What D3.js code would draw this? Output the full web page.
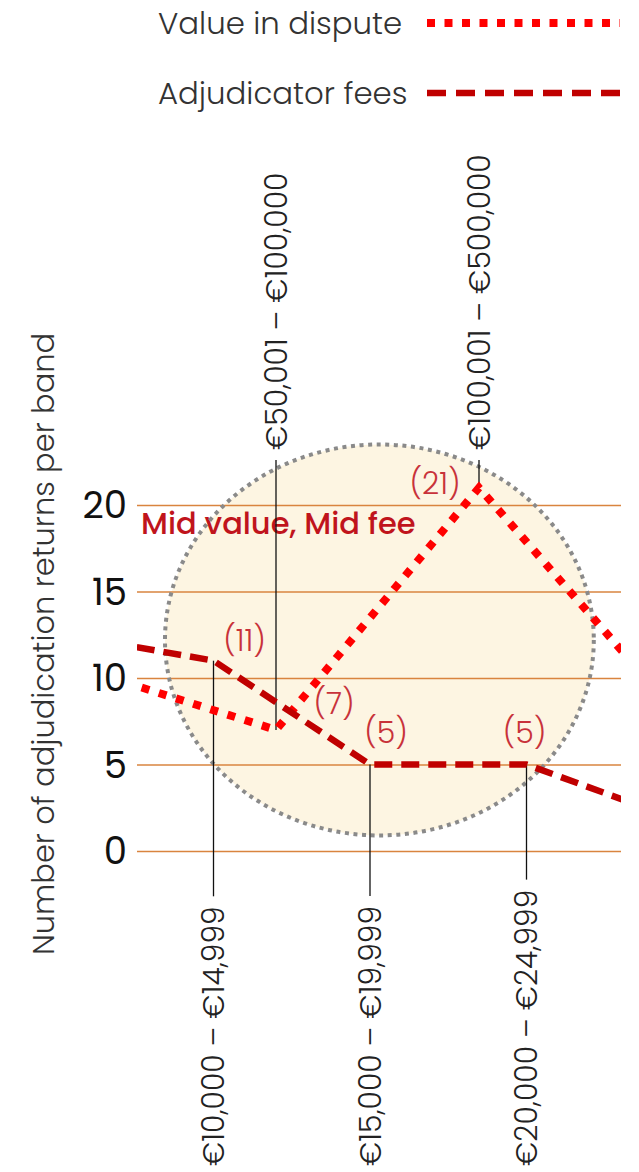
<!DOCTYPE html>
<html>
<head>
<meta charset="utf-8">
<script src="https://cdn.jsdelivr.net/npm/d3@7"></script>
<style>
  html, body { margin: 0; padding: 0; background: #fff; }
  svg { display: block; font-family: Poppins, "Open Sans", sans-serif; }
</style>
</head>
<body>
<svg id="chart" width="639" height="1172"></svg>
<script>
// Adjudication returns per band, by fee band and by value-in-dispute band.
// The outer bands of each series sit just beyond the plotted window.
const feeBands = ["€5,000 – €9,999", "€10,000 – €14,999", "€15,000 – €19,999", "€20,000 – €24,999", "€25,000 – €29,999"];
const feeCounts = [12.6, 11, 5, 5, 1.7];

const valueBands = ["€25,001 – €50,000", "€50,001 – €100,000", "€100,001 – €500,000", "€500,001 – €1,000,000"];
const valueCounts = [10.7, 7, 21, 7.6];

const countTicks = [0, 5, 10, 15, 20];

const legendItems = ["Value in dispute", "Adjudicator fees"];
const axisTitle = "Number of adjudication returns per band";
const calloutText = "Mid value, Mid fee";

// Bands that carry a count callout
const feeCallouts = ["€10,000 – €14,999", "€15,000 – €19,999", "€20,000 – €24,999"];
const valueCallouts = ["€50,001 – €100,000", "€100,001 – €500,000"];

// ---- layout ----
const W = 639, H = 1172;
const plot = { left: 137, right: 621 };
const FONT = 'Poppins, "Open Sans", sans-serif';

const svg = d3.select("#chart");
svg.append("rect").attr("width", W).attr("height", H).attr("fill", "#fff");

const y = d3.scaleLinear().domain([0, 20]).range([851, 505]);
const xFee = d3.scalePoint().domain(feeBands).range([57, 683]);
const xValue = d3.scalePoint().domain(valueBands).range([73, 682]);

const RED = "#ff0000", DARK = "#c00000", CALL = "#c8323a", GRID = "#d9843f";

svg.append("defs").append("clipPath").attr("id", "plotClip")
  .append("rect").attr("x", plot.left).attr("y", 0)
  .attr("width", plot.right - plot.left).attr("height", H);

// ---- highlight zone around the mid bands ----
const zone = { band: 1.06, count: 12.2, bandRadius: 1.37, countRadius: 11.3 };
const step = xFee.step();
const zoneCx = xFee(feeBands[0]) + zone.band * step + step;
const zoneCy = y(zone.count);
const zoneRx = zone.bandRadius * step;
const zoneRy = y(0) - y(zone.countRadius);

svg.append("ellipse")
  .attr("cx", zoneCx).attr("cy", zoneCy).attr("rx", zoneRx).attr("ry", zoneRy)
  .attr("fill", "#fdf5e2");

// ---- gridlines and count axis ----
const yAxis = d3.axisLeft(y).tickValues(countTicks)
  .tickSize(-(plot.right - plot.left)).tickPadding(10);
const gy = svg.append("g").attr("transform", `translate(${plot.left},0)`).call(yAxis)
  .attr("font-family", FONT);
gy.select(".domain").remove();
gy.selectAll(".tick line").attr("stroke", GRID).attr("stroke-width", 1.6);
gy.selectAll(".tick text")
  .attr("font-size", 37).attr("fill", "#111")
  .attr("dy", "0.35em");

svg.append("text")
  .attr("transform", `translate(43,${(y(0) + y(20)) / 2 - 34}) rotate(-90)`)
  .attr("text-anchor", "middle").attr("dominant-baseline", "central")
  .attr("font-size", 30.5).attr("font-weight", 300).attr("fill", "#333")
  .text(axisTitle);

// ---- callout heading ----
svg.append("text")
  .attr("x", plot.left + 4).attr("y", y(18.3))
  .attr("font-size", 30.5).attr("font-weight", 500).attr("fill", "#c0141c")
  .text(calloutText);

// ---- zone outline ----
svg.append("ellipse")
  .attr("cx", zoneCx).attr("cy", zoneCy).attr("rx", zoneRx).attr("ry", zoneRy)
  .attr("fill", "none").attr("stroke", "#8a8a8a").attr("stroke-width", 4)
  .attr("stroke-dasharray", "4,4.6");

// ---- band labels and leader lines ----
const inPlot = x => x >= plot.left && x <= plot.right;
const labelFont = 29.8;

// value bands: labels above, reading upwards
valueBands.forEach((b, i) => {
  const x = xValue(b);
  if (!inPlot(x)) return;
  svg.append("text")
    .attr("transform", `translate(${x},450) rotate(-90)`)
    .attr("dominant-baseline", "central")
    .attr("font-size", labelFont).attr("font-weight", 300).attr("fill", "#222")
    .text(b);
  svg.append("line")
    .attr("x1", x).attr("x2", x).attr("y1", 460).attr("y2", y(valueCounts[i]))
    .attr("stroke", "#111").attr("stroke-width", 1.3);
});

// fee bands: labels below, reading upwards from the bottom
feeBands.forEach((b, i) => {
  const x = xFee(b);
  if (!inPlot(x)) return;
  const t = svg.append("text")
    .attr("transform", `translate(${x},1166) rotate(-90)`)
    .attr("dominant-baseline", "central")
    .attr("font-size", labelFont).attr("font-weight", 300).attr("fill", "#222")
    .text(b);
  const len = t.node().getComputedTextLength();
  svg.append("line")
    .attr("x1", x).attr("x2", x).attr("y1", y(feeCounts[i])).attr("y2", 1166 - len - 10)
    .attr("stroke", "#111").attr("stroke-width", 1.3);
});

// ---- series lines ----
const lines = svg.append("g").attr("clip-path", "url(#plotClip)");

const valueLine = d3.line().x((d, i) => xValue(valueBands[i])).y(d => y(d));
const feeLine = d3.line().x((d, i) => xFee(feeBands[i])).y(d => y(d));

lines.append("path").datum(valueCounts).attr("d", valueLine)
  .attr("fill", "none").attr("stroke", RED).attr("stroke-width", 8)
  .attr("stroke-dasharray", "8,10");

lines.append("path").datum(feeCounts).attr("d", feeLine)
  .attr("fill", "none").attr("stroke", DARK).attr("stroke-width", 6.5)
  .attr("stroke-dasharray", "18,9");

// ---- count callouts ----
const calloutShift = {
  "€10,000 – €14,999": [31, -20],
  "€15,000 – €19,999": [16, -32],
  "€20,000 – €24,999": [-2, -32],
  "€50,001 – €100,000": [58, -26],
  "€100,001 – €500,000": [-44, -4]
};
function callout(band, xs, bands, counts) {
  const i = bands.indexOf(band);
  const [dx, dy] = calloutShift[band];
  svg.append("text")
    .attr("x", xs(band) + dx).attr("y", y(counts[i]) + dy)
    .attr("text-anchor", "middle").attr("dominant-baseline", "central")
    .attr("font-size", 30).attr("font-weight", 300).attr("fill", CALL)
    .text(`(${counts[i]})`);
}
feeCallouts.forEach(b => callout(b, xFee, feeBands, feeCounts));
valueCallouts.forEach(b => callout(b, xValue, valueBands, valueCounts));

// ---- legend ----
const legend = svg.append("g");
legendItems.forEach((name, i) => {
  const ly = 23 + i * 70;
  legend.append("text")
    .attr("x", 158).attr("y", ly)
    .attr("dominant-baseline", "central")
    .attr("font-size", 30.8).attr("font-weight", 300).attr("fill", "#333")
    .text(name);
  legend.append("line")
    .attr("x1", 427).attr("x2", 620).attr("y1", ly).attr("y2", ly)
    .attr("stroke", i === 0 ? RED : DARK)
    .attr("stroke-width", i === 0 ? 8 : 6.5)
    .attr("stroke-dasharray", i === 0 ? "8,9.5" : "19,10");
});
</script>
</body>
</html>
